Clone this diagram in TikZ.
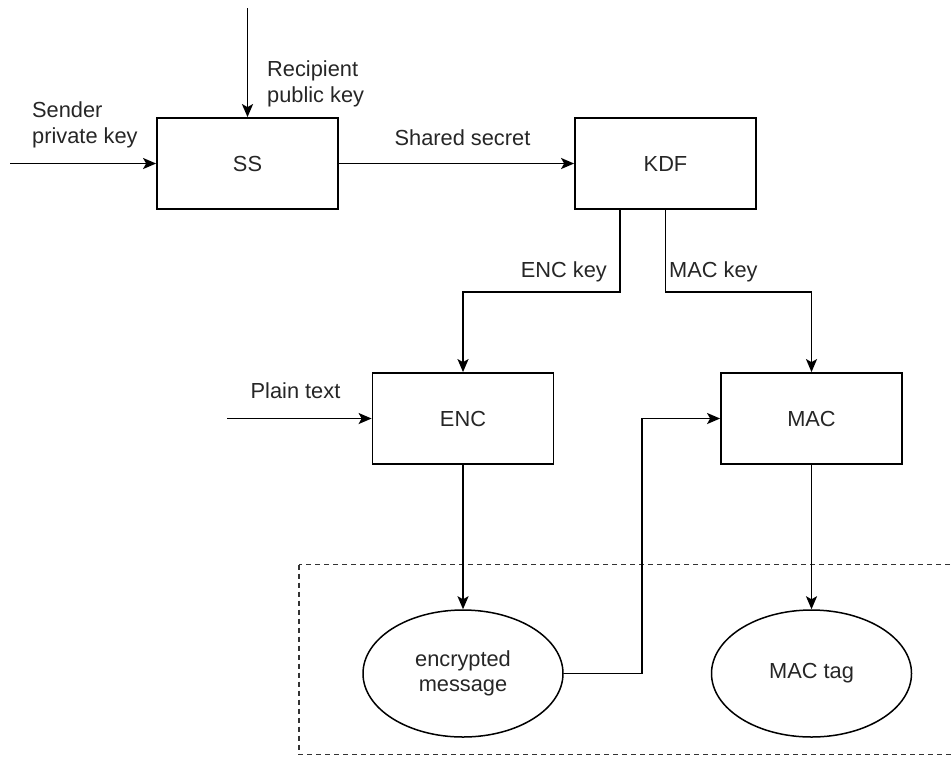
\documentclass[tikz,border=0pt]{standalone}
\usepackage{fontspec}
\setmainfont{Liberation Sans}
\usetikzlibrary{arrows.meta,shapes.geometric}

\tikzset{
  txt/.style={font=\fontsize{21.8}{25.5}\selectfont, text=black!85},
  block/.style={txt, draw, line width=1.8pt, minimum width=181pt, minimum height=91pt, inner sep=0pt},
  data/.style={txt, draw, ellipse, line width=1.5pt, minimum width=200pt, minimum height=127pt, inner sep=0pt, align=center},
  arr/.style={line width=1.8pt, -{Stealth[length=13pt,width=11pt,inset=3pt]}},
  lbl/.style={txt, inner sep=0pt, align=left},
  group/.style={line width=1.3pt, dash pattern=on 5pt off 4pt, black!80}
}

\begin{document}
\begin{tikzpicture}[x=1pt, y=-1pt]
\useasboundingbox (0,0) rectangle (952,756);

% output group, running off the right edge
\begin{scope}
  \clip (0,0) rectangle (952,756);
  \draw[group] (299,564.5) rectangle (970,754.5);
\end{scope}

% blocks
\node[block] (ss)  at (247.5,163.5) {SS};
\node[block] (kdf) at (665.5,163.5) {KDF};
\node[block] (enc) at (463,418.5) {ENC};
\node[block] (mac) at (811.5,418.5) {MAC};

% outputs
\node[data] (ct)  at (463,673.5) {encrypted\\message};
\node[data] (tag) at (811.5,673.5) {MAC tag};

% external inputs
\coordinate (rpk) at (247.5,8);
\coordinate (spk) at (10,163.5);
\coordinate (pt)  at (227,418.5);

\draw[arr] (rpk) -- (ss.north);
\draw[arr] (spk) -- (ss.west);
\draw[arr] (ss.east) -- (kdf.west);
\draw[arr] ([xshift=-45.5pt]kdf.south) -- ++(0,82) -| (enc.north);
\draw[arr] (kdf.south) -- ++(0,82) -| (mac.north);
\draw[arr] (pt) -- (enc.west);
\draw[arr] (enc.south) -- (ct.north);
\draw[arr] (ct.east) -- ++(78,0) |- (mac.west);
\draw[arr] (mac.south) -- (tag.north);

% labels
\node[lbl, anchor=west] (lspk) at (32,125) {Sender\\private key};
\node[lbl, anchor=west] (lrpk) at (267,84) {Recipient\\public key};
\node[txt, inner sep=0pt] (lss) at (462.5,138) {Shared secret};
\node[txt, inner sep=0pt, anchor=east] (lenc) at (607,272) {ENC key};
\node[txt, inner sep=0pt, anchor=west] (lmac) at (669,272) {MAC key};
\node[txt, inner sep=0pt] (lpt) at (295.5,391) {Plain text};
\end{tikzpicture}
\end{document}
